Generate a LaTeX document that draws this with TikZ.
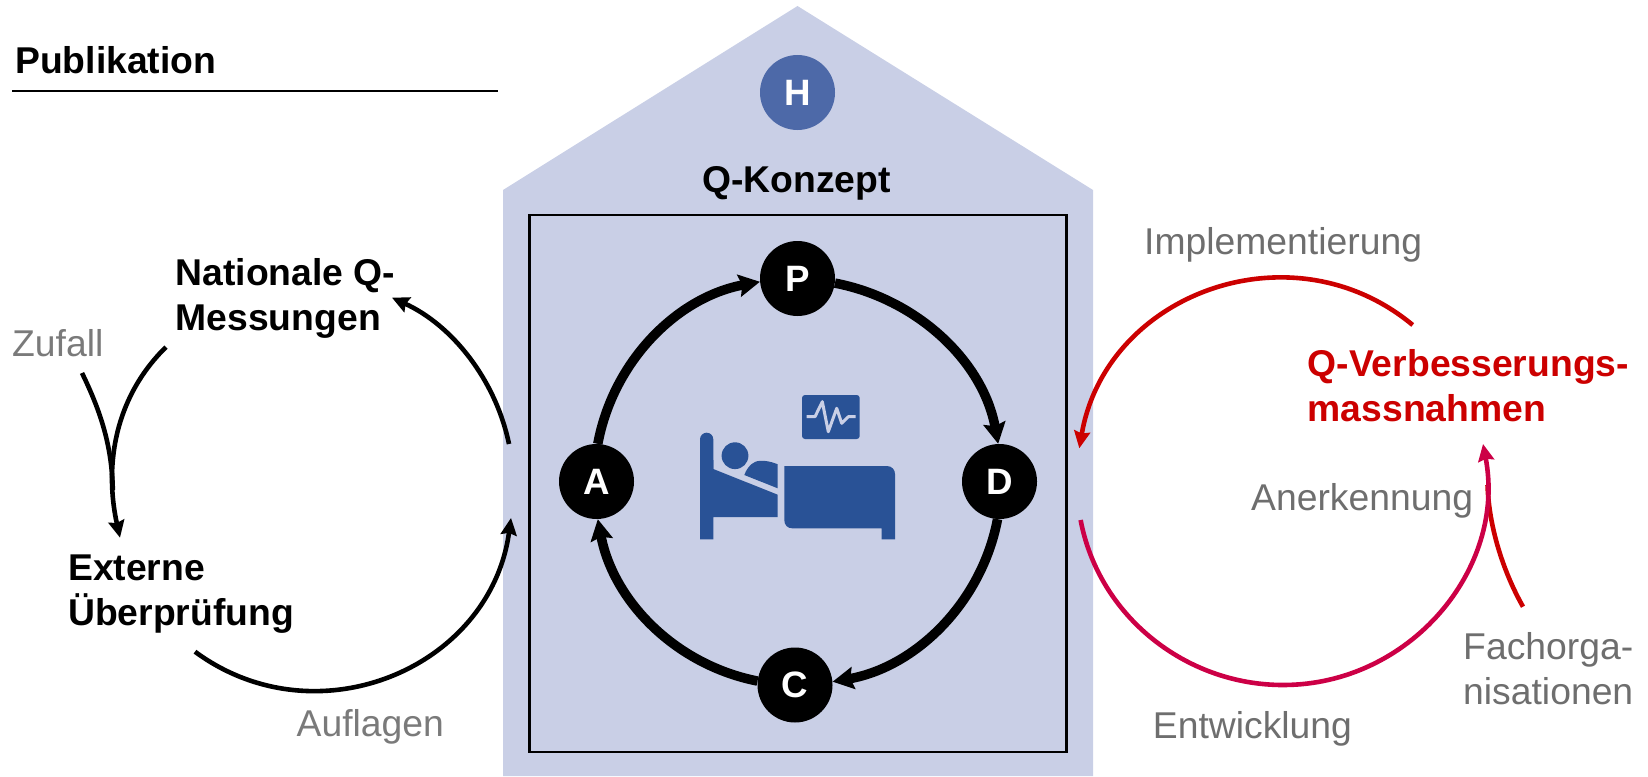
\documentclass[tikz,border=0pt]{standalone}
\usepackage{fontspec}
\setmainfont{Liberation Sans}
\usetikzlibrary{arrows.meta}
\definecolor{housefill}{RGB}{201,207,230}
\definecolor{bedblue}{RGB}{41,82,150}
\definecolor{hblue}{RGB}{77,105,168}
\definecolor{qred}{RGB}{204,0,0}
\definecolor{crimson}{RGB}{204,0,70}
\definecolor{txtgray}{RGB}{110,110,110}
\definecolor{txtlight}{RGB}{122,122,122}
\tikzset{
  lab/.style={anchor=north west,inner sep=0pt,align=left,font=\fontsize{37.3}{45}\selectfont},
  blab/.style={lab,font=\fontsize{37.3}{45}\selectfont\bfseries},
  glab/.style={lab,text=txtgray},
  llab/.style={lab,text=txtlight},
  pdca/.style={circle,fill=black,minimum size=75pt,inner sep=0pt,text=white,font=\fontsize{36.7}{45}\selectfont\bfseries},
  cyc/.style={line width=9.5pt,draw=black,-{Stealth[length=21pt,width=22pt,inset=3pt]}},
  outer/.style={line width=4.6pt,-{Stealth[length=17pt,width=16pt,inset=2pt]}},
  plain/.style={line width=4.6pt}
}
\begin{document}
\begin{tikzpicture}[x=1pt,y=-1pt]
\useasboundingbox (0,0) rectangle (1648,776);
% house
\fill[housefill] (503,776) -- (503,190) -- (797.5,6) -- (1093,190) -- (1093,776) -- cycle;
\draw[line width=2.5pt] (529.5,215) rectangle (1066.5,752);
% heading
\node[blab,anchor=base west] (pub) at (15,74) {Publikation};
\coordinate (ruleL) at (12,91);
\coordinate (ruleR) at (498,91);
\draw[line width=2pt] (ruleL) -- (ruleR);
\node[pdca,fill=hblue] (H) at (797.5,92.5) {H};
\node[blab,anchor=base] (qk) at (796.5,192) {Q-Konzept};
% PDCA
\node[pdca] (P) at (797.5,278.5) {P};
\node[pdca] (D) at (999.5,481.5) {D};
\node[pdca] (C) at (795,685) {C};
\node[pdca] (A) at (596.5,481.5) {A};
\draw[cyc] (A.88) to[out=79.5,in=190.5,looseness=.937] (P.185);
\draw[cyc] (P.-7) to[out=-10.9,in=100.4,looseness=.937] (D.92);
\draw[cyc] (D.-93) to[out=-100.7,in=10,looseness=.937] (C.5);
\draw[cyc] (C.174) to[out=168.8,in=-79.3,looseness=.937] (A.-88);
% bed icon
\fill[bedblue,rounded corners=6.6pt] (700,480) -- (700,432.7) -- (713.3,432.7) -- (713.3,480) -- cycle;
\fill[bedblue] (700,460) -- (700,539.3) -- (713.3,539.3) -- (713.3,517) -- (777.7,517) -- (777.7,494.7) -- (713.3,469) -- (713.3,460) -- cycle;
\fill[bedblue] (735,455.7) circle[radius=13.4pt];
\fill[bedblue] (744.3,475) -- (777.7,488.3) -- (777.7,464.3) .. controls (770,461) and (760,459.5) .. (755,462) .. controls (750,464) and (746,470) .. (744.3,475) -- cycle;
\fill[bedblue] (784.3,466) -- (887,466) .. controls (892,466) and (895,470) .. (895,474) -- (895,539.3) -- (881.7,539.3) -- (881.7,528.3) -- (792.3,528.3) .. controls (787.5,528.3) and (784.3,525) .. (784.3,520) -- cycle;
\fill[bedblue,rounded corners=3pt] (802,395) rectangle (859.7,439);
\draw[housefill,line width=3pt,line join=round] (806.7,416.7) -- (815,416.7) -- (822.3,401.7) -- (828.3,431.7) -- (836.7,408.3) -- (841.7,423.3) -- (848.3,416.7) -- (855.7,416.7);
% left cycle
\node[blab] (nat) at (175.5,258.5) {Nationale Q-\\Messungen};
\node[blab] (ext) at (68,554.5) {Externe\\Überprüfung};
\node[llab,anchor=base west] (zuf) at (12,356) {Zufall};
\node[llab,anchor=base west] (auf) at (296.5,736) {Auflagen};
\coordinate (l1s) at (195,651.7);
\coordinate (l1e) at (511,518);
\coordinate (l2s) at (509,444);
\coordinate (l2e) at (392,297.7);
\coordinate (l3s) at (166,347);
\coordinate (l3e) at (120,537.7);
\coordinate (zfs) at (82,373);
\coordinate (zfe) at (112.8,490);
\draw[outer] (l1s) to[bend right=59.3,looseness=1.128] (l1e);
\draw[outer] (l2s) to[bend right=26.85,looseness=0.9] (l2e);
\draw[plain] (zfs) .. controls (100,410) and (112,445) .. (zfe);
\draw[outer] (l3s) .. controls (112,400) and (105,470) .. (l3e);
% right cycle
\node[blab,text=qred] (qv) at (1307.5,349.5) {Q-Verbesserungs-\\massnahmen};
\node[glab,anchor=base west] (imp) at (1144,254) {Implementierung};
\node[glab,anchor=base west] (ane) at (1251,510) {Anerkennung};
\node[glab,anchor=base west] (ent) at (1152.7,738) {Entwicklung};
\node[glab] (fach) at (1463,632.5) {Fachorga-\\nisationen};
\coordinate (r1s) at (1412.7,325);
\coordinate (r1e) at (1079.3,448.3);
\coordinate (r2s) at (1080.6,520);
\coordinate (r2m) at (1283,685);
\coordinate (r2e) at (1483,444);
\coordinate (fs) at (1523,606.7);
\coordinate (fe) at (1487.5,485);
\draw[outer,qred] (r1s) to[bend right=60,looseness=1.134] (r1e);
\draw[plain,qred] (fs) .. controls (1505,575) and (1489,530) .. (fe);
\draw[outer,crimson] (r2s) to[out=-79.3,in=180,looseness=.958] (r2m) to[out=0,in=-79.2,looseness=1.035] (r2e);
\end{tikzpicture}
\end{document}
